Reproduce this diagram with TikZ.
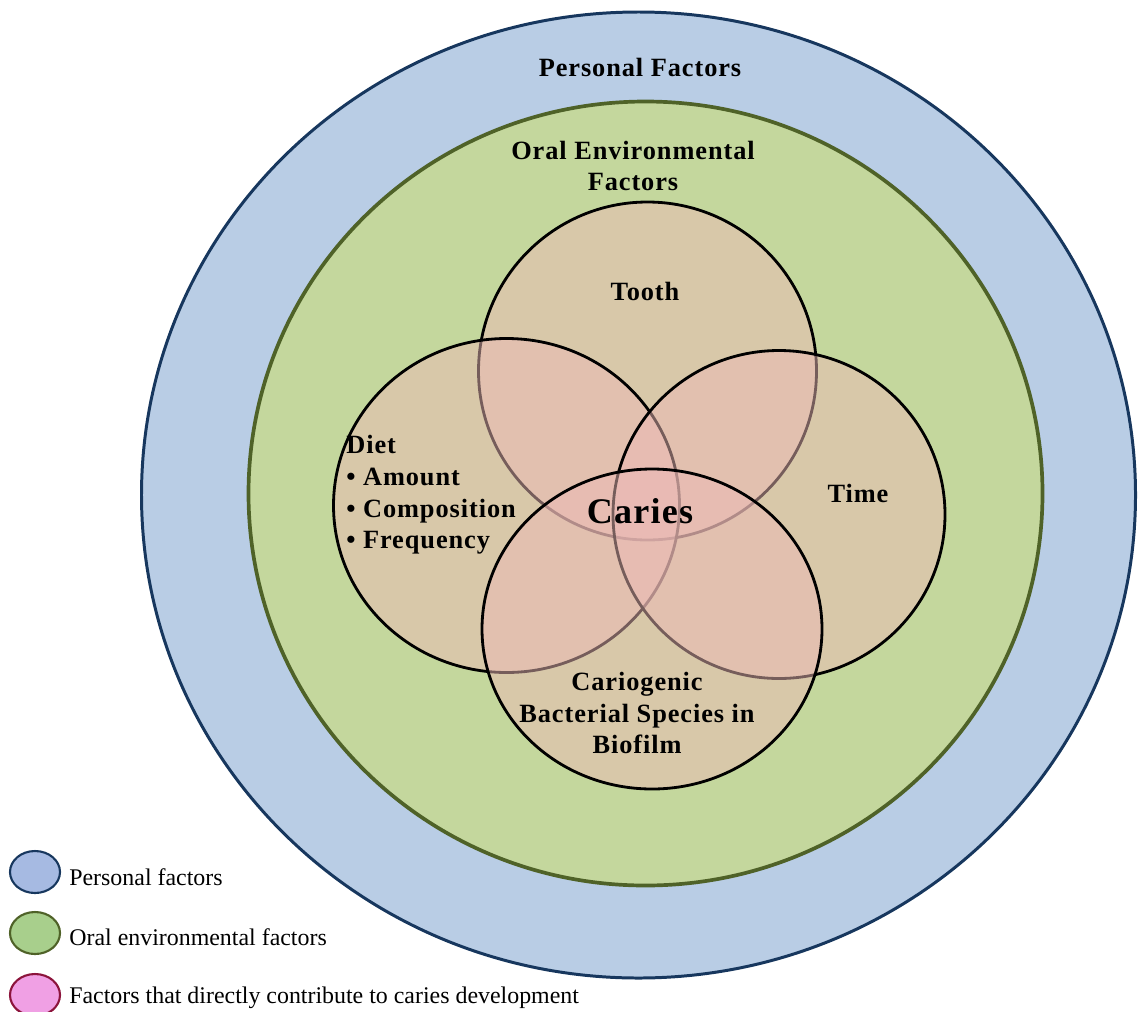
\documentclass[tikz,border=0pt]{standalone}
\usepackage{fontspec}
\setmainfont{Liberation Serif}
\newfontfamily\labelfont[LetterSpace=3.5]{Liberation Serif}

\definecolor{persfill}{RGB}{185,205,229}
\definecolor{persline}{RGB}{23,55,94}
\definecolor{oralfill}{RGB}{196,215,157}
\definecolor{oralline}{RGB}{79,98,40}
\definecolor{vennfill}{RGB}{236,186,182}
\definecolor{legpers}{RGB}{166,186,226}
\definecolor{legoral}{RGB}{168,207,140}
\definecolor{legcar}{RGB}{240,160,228}
\definecolor{legcarline}{RGB}{140,20,60}

\tikzset{
  venn/.style={draw=black, line width=1.6pt, fill=vennfill, fill opacity=0.5},
  lbl/.style={font=\labelfont\bfseries\fontsize{15}{18}\selectfont, inner sep=0pt},
  leg/.style={font=\fontsize{13.6}{16}\selectfont, anchor=west, inner sep=0pt},
  legmark/.style={line width=1.2pt}
}

\begin{document}
\begin{tikzpicture}[x=0.02cm, y=-0.02cm]
\useasboundingbox (0,0) rectangle (1138,1011);

% rings
\draw [persline, line width=1.7pt, fill=persfill] (638.5,495) ellipse [x radius=497, y radius=483];
\draw [oralline, line width=2.1pt, fill=oralfill] (645.5,493.5) ellipse [x radius=397, y radius=392];

\node (pers) [lbl] at (640,67) {Personal Factors};
\node (oral) [lbl, align=center] at (633,166) {Oral Environmental\\Factors};

% venn
\draw [venn] (647.5,371) ellipse [x radius=169, y radius=169];
\draw [venn] (506.5,505.5) ellipse [x radius=173, y radius=167];
\draw [venn] (779,514.5) ellipse [x radius=166, y radius=164];
\draw [venn] (652,629) ellipse [x radius=170, y radius=160];

\node (tooth) [lbl] at (645,291) {Tooth};
\node (diet) [lbl, align=left, anchor=west] at (346,495) {Diet\\\textbullet\ Amount\\\textbullet\ Composition\\\textbullet\ Frequency};
\node (time) [lbl] at (858,493) {Time};
\node (bact) [lbl, align=center] at (637,713) {Cariogenic\\Bacterial Species in\\Biofilm};
\node (caries) [lbl, font=\labelfont\bfseries\fontsize{20.5}{24}\selectfont] at (640,511) {Caries};

% legend
\draw [legmark, draw=persline, fill=legpers] (35,872) ellipse [x radius=25, y radius=21];
\draw [legmark, draw=oralline, fill=legoral] (35,933) ellipse [x radius=25, y radius=21];
\draw [legmark, draw=legcarline, fill=legcar] (35,995) ellipse [x radius=25, y radius=21];
\node (legpersT) [leg] at (69,877) {Personal factors};
\node (legoralT) [leg] at (69,937) {Oral environmental factors};
\node (legcarT) [leg] at (69,998) {Factors that directly contribute to caries development};
\end{tikzpicture}
\end{document}
